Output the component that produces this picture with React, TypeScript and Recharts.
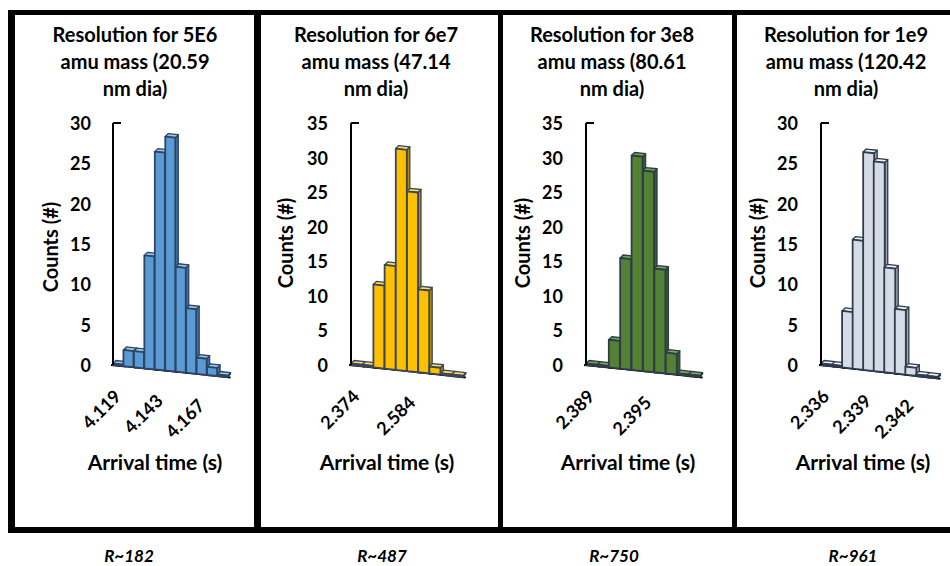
import React from 'react';
import { BarChart, Bar, XAxis, YAxis } from 'recharts';

// arrival-time bins (s) and counts for each particle mass
const bins5e6 = [4.119, 4.125, 4.131, 4.137, 4.143, 4.149, 4.155, 4.161, 4.167, 4.173, 4.179];
const counts5e6 = [0, 2, 2, 14, 27, 29, 13, 8, 2, 1, 0];

const bins6e7 = [2.374, 2.416, 2.458, 2.5, 2.542, 2.584, 2.626, 2.668, 2.71, 2.752];
const counts6e7 = [0, 0, 12, 15, 32, 26, 12, 1, 0, 0];

const bins3e8 = [2.389, 2.3902, 2.3914, 2.3926, 2.3938, 2.395, 2.3962, 2.3974, 2.3986, 2.3998];
const counts3e8 = [0, 0, 4, 16, 31, 29, 15, 3, 0, 0];

const bins1e9 = [2.336, 2.33675, 2.3375, 2.33825, 2.339, 2.33975, 2.3405, 2.34125, 2.342, 2.34275, 2.3435];
const counts1e9 = [0, 0, 7, 16, 27, 26, 13, 8, 1, 0, 0];

const titles = [
  ['Resolution for 5E6', 'amu mass (20.59', 'nm dia)'],
  ['Resolution for 6e7', 'amu mass (47.14', 'nm dia)'],
  ['Resolution for 3e8', 'amu mass (80.61', 'nm dia)'],
  ['Resolution for 1e9', 'amu mass (120.42', 'nm dia)'],
];
const resolutions = ['R~182', 'R~487', 'R~750', 'R~961'];

const FONT = 'Lato, "Open Sans", sans-serif';
const SLOPE = 0.11;
const DEPTH = 3;
const TOP = 100;
const PLOT_TOP = 123;
const PLOT_BOTTOM = 365;
const CHART_H = 380;

type Colors = { front: string; top: string; side: string; stroke: string };

const panels = [
  {
    bins: bins5e6, counts: counts5e6, yMax: 30, interval: 3,
    left: 15, width: 239, axisX: 113, plotRight: 228, tickGap: 22,
    titleX: 135, countsX: 50, countsY: 247, arrivalX: 155, rX: 129,
    colors: { front: '#5b9bd5', top: '#9dc3e6', side: '#3f72a6', stroke: '#2c4466' },
  },
  {
    bins: bins6e7, counts: counts6e7, yMax: 35, interval: 4,
    left: 261, width: 237, axisX: 351, plotRight: 463, tickGap: 23,
    titleX: 376, countsX: 285, countsY: 243, arrivalX: 387, rX: 382,
    colors: { front: '#ffc000', top: '#ffd966', side: '#b88a00', stroke: '#3b4656' },
  },
  {
    bins: bins3e8, counts: counts3e8, yMax: 35, interval: 4,
    left: 503, width: 229, axisX: 586, plotRight: 700, tickGap: 23,
    titleX: 612, countsX: 522, countsY: 243, arrivalX: 628, rX: 614,
    colors: { front: '#548235', top: '#76a84f', side: '#3b5e24', stroke: '#2d3b4a' },
  },
  {
    bins: bins1e9, counts: counts1e9, yMax: 30, interval: 3,
    left: 737, width: 213, axisX: 821, plotRight: 937, tickGap: 23,
    titleX: 846, countsX: 757, countsY: 243, arrivalX: 863, rX: 853,
    colors: { front: '#d6dce5', top: '#eef1f5', side: '#9aa5b6', stroke: '#2f3b4e' },
  },
];

const makeBarShape = (c: Colors) => (props: any) => {
  const { x, y, width, height, index } = props;
  if (x == null || width == null) return null;
  const h = Math.max(height || 0, 1.5);
  const base = y + (height || 0);
  const o0 = index * width * SLOPE;
  const o1 = (index + 1) * width * SLOPE;
  const x1 = x + width;
  const t0 = base - h + o0;
  const t1 = base - h + o1;
  const b0 = base + o0;
  const b1 = base + o1;
  const d = DEPTH;
  return (
    <g>
      <line x1={x - (index === 0 ? 2 : 0)} y1={b0} x2={x1 + d} y2={b1 + SLOPE * d} stroke="#000" strokeWidth={2} />
      <polygon
        points={`${x1},${t1} ${x1 + d},${t1 - d} ${x1 + d},${b1 - d} ${x1},${b1}`}
        fill={c.side}
        stroke={c.stroke}
        strokeWidth={1.3}
        strokeLinejoin="round"
      />
      <polygon
        points={`${x},${t0} ${x + d},${t0 - d} ${x1 + d},${t1 - d} ${x1},${t1}`}
        fill={c.top}
        stroke={c.stroke}
        strokeWidth={1.3}
        strokeLinejoin="round"
      />
      <polygon
        points={`${x},${t0} ${x1},${t1} ${x1},${b1} ${x},${b0}`}
        fill={c.front}
        stroke={c.stroke}
        strokeWidth={1.8}
        strokeLinejoin="round"
      />
    </g>
  );
};

const renderXTick = (plotLeft: number) => (props: any) => {
  const { x, y, payload } = props;
  const ax = x + 4;
  const ay = y + SLOPE * (x - plotLeft) + 32;
  return (
    <text
      x={ax}
      y={ay}
      transform={`rotate(-45 ${ax} ${ay})`}
      textAnchor="end"
      fontFamily={FONT}
      fontWeight={700}
      fontSize={18}
      fill="#000"
    >
      {Number(payload.value).toFixed(3)}
    </text>
  );
};

const renderYTick = (yMax: number, gap: number) => (props: any) => {
  const { x, y, payload } = props;
  return (
    <g>
      <text
        x={x}
        y={y}
        textAnchor="end"
        dominantBaseline="central"
        fontFamily={FONT}
        fontWeight={700}
        fontSize={18}
        fill="#000"
      >
        {payload.value}
      </text>
      {payload.value === yMax && (
        <line x1={x + gap} y1={y} x2={x + gap + 8} y2={y} stroke="#000" strokeWidth={2} />
      )}
    </g>
  );
};

const textStyle: React.CSSProperties = {
  position: 'absolute',
  fontFamily: FONT,
  fontWeight: 700,
  color: '#000',
  whiteSpace: 'nowrap',
};

const Panel = ({ p, i }: { p: (typeof panels)[number]; i: number }) => {
  const data = p.bins.map((b, k) => ({ bin: b, count: p.counts[k] }));
  const yWidth = 60;
  const mLeft = p.axisX - p.left - yWidth;
  const mRight = p.left + p.width - p.plotRight;
  const xHeight = CHART_H - (PLOT_BOTTOM - TOP);
  const ticks: number[] = [];
  for (let v = 0; v <= p.yMax; v += 5) ticks.push(v);
  const plotLeft = p.axisX - p.left;
  return (
    <>
      <div
        style={{
          ...textStyle,
          left: p.titleX - 110,
          width: 220,
          top: 21,
          fontSize: 20,
          lineHeight: '27px',
          textAlign: 'center',
        }}
      >
        {titles[i].map((t) => (
          <div key={t}>{t}</div>
        ))}
      </div>
      <div style={{ position: 'absolute', left: p.left, top: TOP }}>
        <BarChart
          width={p.width}
          height={CHART_H}
          data={data}
          barCategoryGap={0}
          margin={{ top: PLOT_TOP - TOP, right: mRight, bottom: 0, left: mLeft }}
        >
          <XAxis
            dataKey="bin"
            type="category"
            interval={p.interval}
            height={xHeight}
            axisLine={false}
            tickLine={false}
            tickSize={0}
            tickMargin={0}
            tick={renderXTick(plotLeft)}
          />
          <YAxis
            type="number"
            domain={[0, p.yMax]}
            ticks={ticks}
            width={yWidth}
            axisLine={{ stroke: '#000', strokeWidth: 2 }}
            tickLine={false}
            tickSize={0}
            tickMargin={p.tickGap}
            tick={renderYTick(p.yMax, p.tickGap)}
          />
          <Bar dataKey="count" isAnimationActive={false} shape={makeBarShape(p.colors)} />
        </BarChart>
      </div>
      <div
        style={{
          ...textStyle,
          left: p.countsX - 60,
          top: p.countsY - 13,
          width: 120,
          height: 26,
          lineHeight: '26px',
          fontSize: 20,
          textAlign: 'center',
          transform: 'rotate(-90deg)',
        }}
      >
        Counts (#)
      </div>
      <div
        style={{
          ...textStyle,
          left: p.arrivalX - 90,
          width: 180,
          top: 448,
          fontSize: 21,
          lineHeight: '28px',
          textAlign: 'center',
        }}
      >
        Arrival time (s)
      </div>
      <div
        style={{
          ...textStyle,
          left: p.rX - 50,
          width: 100,
          top: 546,
          fontSize: 17,
          lineHeight: '19px',
          fontStyle: 'italic',
          textAlign: 'center',
        }}
      >
        {resolutions[i]}
      </div>
    </>
  );
};

const App = () => {
  return (
    <div
      style={{
        position: 'absolute',
        left: 0,
        top: 0,
        width: 950,
        height: 566,
        overflow: 'hidden',
        background: '#fff',
      }}
    >
      <div
        style={{
          position: 'absolute',
          left: 8,
          top: 10,
          width: 960,
          height: 523,
          boxSizing: 'border-box',
          borderTop: '5px solid #000',
          borderBottom: '6px solid #000',
          borderLeft: '7px solid #000',
        }}
      />
      {[254, 498, 732].map((x, k) => (
        <div
          key={x}
          style={{
            position: 'absolute',
            left: x,
            top: 10,
            width: k === 0 ? 7 : 5,
            height: 523,
            background: '#000',
          }}
        />
      ))}
      {panels.map((p, i) => (
        <Panel key={i} p={p} i={i} />
      ))}
    </div>
  );
};

export default App;
